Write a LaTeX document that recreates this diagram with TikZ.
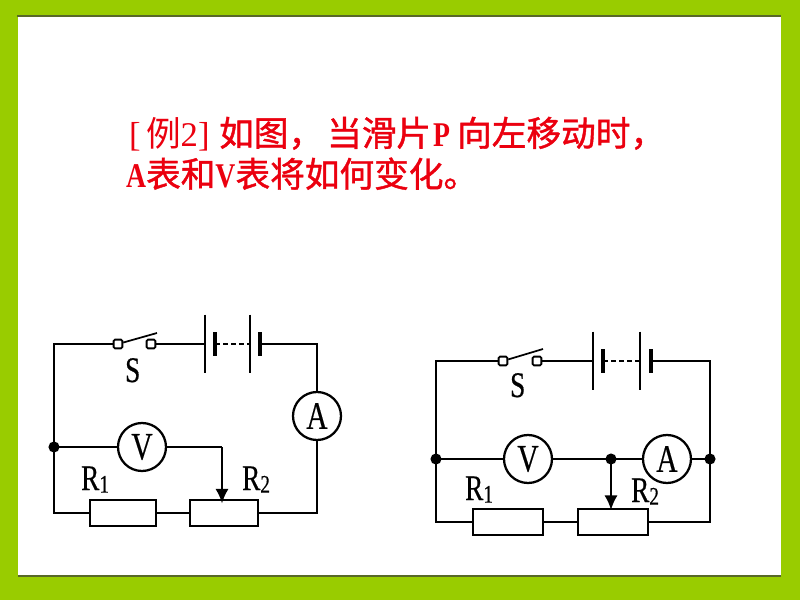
\documentclass[tikz,border=0pt]{standalone}
\usepackage{fontspec}
\setmainfont{Liberation Serif}
\newfontfamily\cjk{Noto Sans CJK SC}
\newfontfamily\cjkheavy[FakeBold=1.2]{Noto Sans CJK SC}
\newfontfamily\labelfont[FakeStretch=0.76,FakeBold=0.4]{Liberation Serif}
\newfontfamily\latinbold[FakeStretch=0.8]{Liberation Serif Bold}
\usetikzlibrary{arrows.meta}
\definecolor{framegreen}{RGB}{153,204,0}
\definecolor{edgedark}{RGB}{88,104,40}
\definecolor{titlered}{RGB}{235,0,15}
\newcommand{\lsub}[1]{\raisebox{-2pt}{\fontsize{19}{19}\selectfont #1}}
\tikzset{every picture/.style={line width=1.7pt},
  meter/.style={draw,circle,minimum size=36pt,inner sep=0pt,fill=white,font=\labelfont\fontsize{29}{29}\selectfont},
  resistor/.style={draw,rectangle,minimum height=19pt,inner sep=0pt,fill=white},
  terminal/.style={draw,rectangle,rounded corners=1pt,minimum size=6.5pt,inner sep=0pt,line width=1.4pt,fill=white},
  junction/.style={draw,circle,fill=black,minimum size=6.5pt,inner sep=0pt},
  wirelabel/.style={anchor=base west,inner sep=0pt,font=\labelfont\fontsize{27}{27}\selectfont},
  titleline/.style={anchor=base west,inner sep=0pt,text=titlered,font=\fontsize{26}{26}\selectfont},
  thickplate/.style={line width=3.2pt},
  thinplate/.style={line width=1.7pt},
  tapline/.style={-{Latex[length=11pt,width=10pt]}}
}

\begin{document}
\begin{tikzpicture}[x=0.75pt,y=0.75pt,yscale=-1,xscale=1]
\useasboundingbox (0,0) rectangle (800,600);

%Frame
\fill [framegreen] (0,0) rectangle (800,600);
\fill [white] (18,16) rectangle (781,576);
\fill [edgedark] (17,15) rectangle (781,16.5);
\fill [edgedark] (18,575) rectangle (781,577);

% Text Node
\node [titleline] (title1a) at (128,146) {[\hspace{4pt}{\cjk 例}2]};
\node [titleline] (title1b) at (218,146) {\cjkheavy 如图，};
\node [titleline] (title1c) at (326,146) {\cjkheavy 当滑片};
\node [titleline] (title1d) at (432,146) {\latinbold P};
\node [titleline] (title1e) at (456,146) {\cjkheavy 向左移动时，};
\node [titleline] (title2) at (125,187) {\latinbold A\cjkheavy 表和\latinbold V\cjkheavy 表将如何变化。};

%Left circuit
\node [terminal] (swA) at (118,344) {};
\node [terminal] (swB) at (151,344) {};
\coordinate (bladeA) at (157,333);
\coordinate (plateA) at (205,344);
\coordinate (plateB) at (215,344);
\coordinate (plateC) at (250,344);
\coordinate (plateD) at (260,344);
\node [meter] (ampA) at (317,416) {A};
\node [meter] (voltA) at (142,447) {V};
\node [junction] (joinA) at (54,447) {};
\node [resistor,minimum width=50pt] (resA) at (123,513) {};
\node [resistor,minimum width=51pt] (rheoA) at (224,513) {};
\coordinate (tapA) at (222,503.5);
\coordinate (tapcornerA) at (222,447);

\draw (swA) -| (joinA);
\draw (joinA) |- (resA);
\draw (resA) -- (rheoA);
\draw (rheoA) -| (ampA);
\draw (ampA) |- (plateD);
\draw (swB) -- (plateA);
\draw (joinA) -- (voltA);
\draw (voltA) -- (tapcornerA);
\draw [tapline] (tapcornerA) -- (tapA);
\draw [line width=1.3pt] (swA) -- (bladeA);
\draw [thinplate] ([yshift=-22pt]plateA) -- ([yshift=22pt]plateA);
\draw [thickplate] ([yshift=-9pt]plateB) -- ([yshift=9pt]plateB);
\draw [thinplate] ([yshift=-22pt]plateC) -- ([yshift=22pt]plateC);
\draw [thickplate] ([yshift=-9pt]plateD) -- ([yshift=9pt]plateD);
\draw [dash pattern={on 4pt off 2pt}] (plateB) -- (plateC);

\node [wirelabel] (labelSA) at (124,382) {S};
\node [wirelabel] (labelRA) at (80,490) {R\lsub{1}};
\node [wirelabel] (labelRB) at (241,490) {R\lsub{2}};

%Right circuit
\node [terminal] (swC) at (503,361) {};
\node [terminal] (swD) at (537,361) {};
\coordinate (bladeB) at (543,349);
\coordinate (plateE) at (593,361);
\coordinate (plateF) at (603,361);
\coordinate (plateG) at (640,361);
\coordinate (plateH) at (651,361);
\node [meter] (voltB) at (528,459) {V};
\node [meter] (ampB) at (667,459) {A};
\node [junction] (joinB) at (436,459) {};
\node [junction] (joinC) at (611,459) {};
\node [junction] (joinD) at (710,459) {};
\node [resistor,minimum width=52pt] (resB) at (508,522) {};
\node [resistor,minimum width=52pt] (rheoB) at (613,522) {};
\coordinate (tapB) at (611,510);

\draw (swC) -| (joinB);
\draw (joinB) |- (resB);
\draw (resB) -- (rheoB);
\draw (rheoB) -| (joinD);
\draw (joinD) |- (plateH);
\draw (swD) -- (plateE);
\draw (joinB) -- (voltB);
\draw (voltB) -- (joinC);
\draw (joinC) -- (ampB);
\draw (ampB) -- (joinD);
\draw [tapline] (joinC) -- (tapB);
\draw [line width=1.3pt] (swC) -- (bladeB);
\draw [thinplate] ([yshift=-22pt]plateE) -- ([yshift=22pt]plateE);
\draw [thickplate] ([yshift=-9pt]plateF) -- ([yshift=9pt]plateF);
\draw [thinplate] ([yshift=-22pt]plateG) -- ([yshift=22pt]plateG);
\draw [thickplate] ([yshift=-9pt]plateH) -- ([yshift=9pt]plateH);
\draw [dash pattern={on 4pt off 2pt}] (plateF) -- (plateG);

\node [wirelabel] (labelSB) at (509,397) {S};
\node [wirelabel] (labelRC) at (464,500) {R\lsub{1}};
\node [wirelabel] (labelRD) at (630,502) {R\lsub{2}};

\end{tikzpicture}
\end{document}
